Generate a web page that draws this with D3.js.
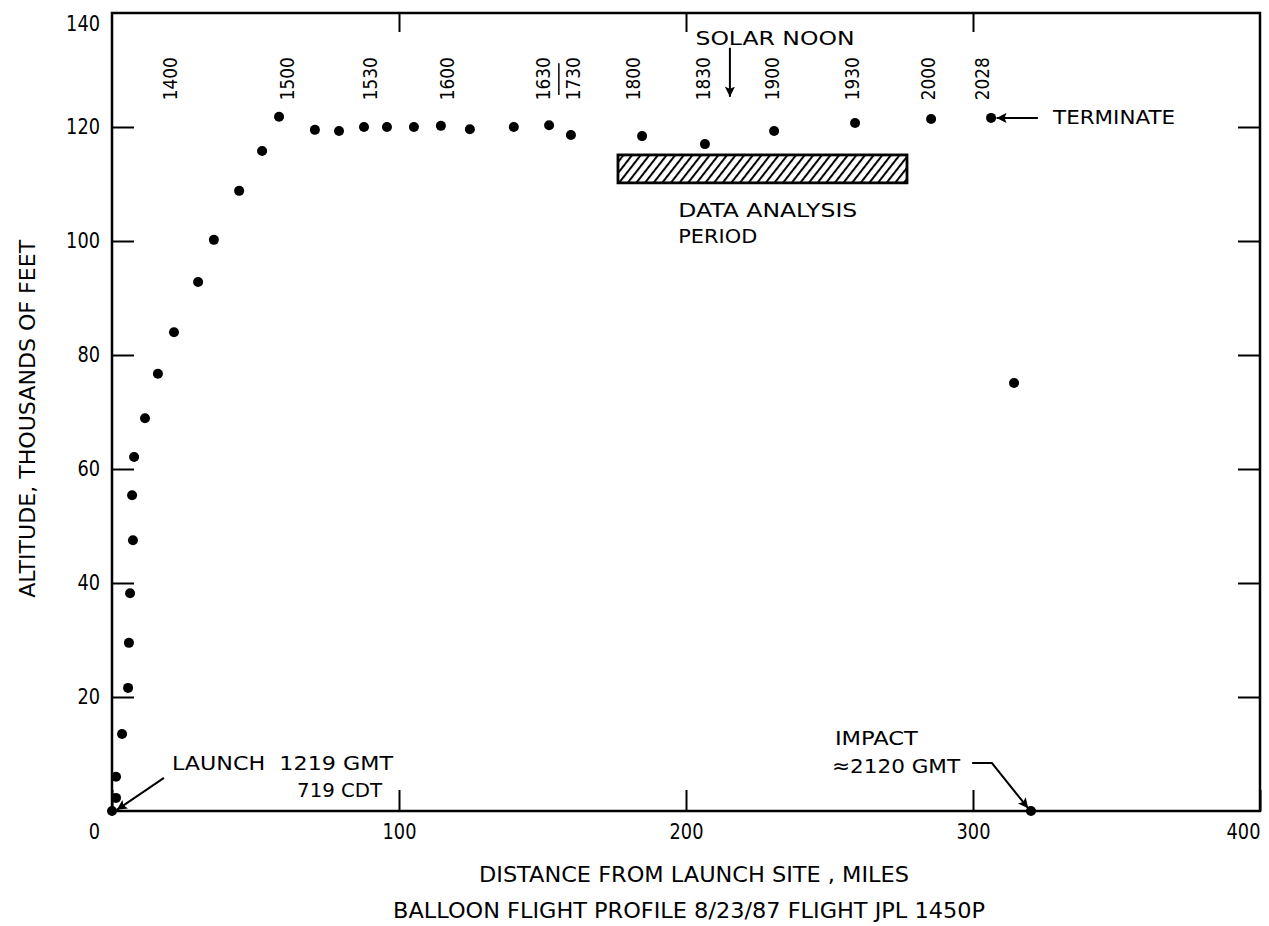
<!DOCTYPE html>
<html>
<head>
<meta charset="utf-8">
<script src="https://cdn.jsdelivr.net/npm/d3@7.9.0/dist/d3.min.js"></script>
<style>
  body { margin: 0; background: #fff; }
  svg { display: block; font-family: 'DejaVu Sans', sans-serif; }
  text { fill: #000; }
</style>
</head>
<body>
<div id="chart"></div>
<script>
// flight points: distance (miles) and altitude (thousands of feet)
const distance = [0, 1.4, 1.4, 3.5, 5.6, 5.9, 6.3, 7.3, 7.0, 7.7, 11.5, 16.0, 21.6, 30.0, 35.5,
  44.3, 52.3, 58.2, 70.7, 79.1, 87.8, 95.8, 105.2, 114.6, 124.7, 140.0, 152.3, 159.9,
  184.7, 206.6, 230.7, 258.9, 285.4, 306.3, 314.3, 320.2];
const altitude = [0, 2.3, 6.0, 13.5, 21.6, 29.5, 38.2, 47.5, 55.4, 62.1, 68.9, 76.7, 84.0, 92.8, 100.2,
  108.8, 115.8, 121.8, 119.5, 119.3, 120.0, 120.0, 120.0, 120.2, 119.6, 120.0, 120.3, 118.6,
  118.4, 117.0, 119.3, 120.7, 121.4, 121.6, 75.1, 0];

// GMT time marks along the float
const timeLabels = ['1400', '1500', '1530', '1600', '1630', '1730', '1800', '1830', '1900', '1930', '2000', '2028'];
const timeDistance = [20.2, 61.0, 89.9, 116.7, 150.2, 160.6, 181.5, 205.9, 230.0, 257.8, 284.3, 303.1];

const xTicks = [0, 100, 200, 300, 400];
const yTicks = [20, 40, 60, 80, 100, 120, 140];

// data analysis period box
const periodDistance = [176.3, 277.0];
const periodAltitude = [110.2, 115.1];

const width = 1269;
const height = 926;
const margin = { top: 13, right: 9, bottom: 115, left: 112 };

const svg = d3.select('#chart').append('svg')
  .attr('width', width)
  .attr('height', height);

const x = d3.scaleLinear().domain([0, 400]).range([margin.left, width - margin.right]);
const y = d3.scaleLinear().domain([0, 140]).range([height - margin.bottom, margin.top]);

const defs = svg.append('defs');
defs.append('pattern')
  .attr('id', 'hatch')
  .attr('patternUnits', 'userSpaceOnUse')
  .attr('width', 6.8)
  .attr('height', 10)
  .attr('patternTransform', 'rotate(38)')
  .append('line')
  .attr('x1', 2).attr('y1', 0).attr('x2', 2).attr('y2', 10)
  .attr('stroke', '#000')
  .attr('stroke-width', 2);

defs.append('marker')
  .attr('id', 'head')
  .attr('viewBox', '0 0 10 10')
  .attr('refX', 10).attr('refY', 5)
  .attr('markerWidth', 18).attr('markerHeight', 10)
  .attr('markerUnits', 'userSpaceOnUse')
  .attr('orient', 'auto')
  .append('path')
  .attr('d', 'M0,0L10,5L0,10L2,5Z')
  .attr('fill', '#000');

// axes (ticks point inward)
const left = svg.append('g')
  .attr('transform', `translate(${x(0)},0)`)
  .call(d3.axisLeft(y).tickValues(yTicks).tickSize(-22).tickPadding(12));
left.selectAll('.tick line').filter(d => d === 140).remove();
left.selectAll('.tick text').filter(d => d === 140).attr('dy', '0.85em');

svg.append('g')
  .attr('transform', `translate(${x(400)},0)`)
  .call(d3.axisRight(y).tickValues(yTicks.slice(0, 6)).tickSize(-22).tickFormat(''));

const bottom = svg.append('g')
  .attr('transform', `translate(0,${y(0)})`)
  .call(d3.axisBottom(x).tickValues(xTicks).tickSize(-21).tickPadding(12));
bottom.selectAll('.tick text')
  .attr('dx', d => d === 0 ? -18 : d === 400 ? -17 : 0);

svg.append('g')
  .attr('transform', `translate(0,${y(140)})`)
  .call(d3.axisTop(x).tickValues([100, 200, 300]).tickSize(-19).tickFormat(''));

svg.selectAll('.domain').remove();
svg.selectAll('.tick line').attr('stroke', '#000').attr('stroke-width', 2);
svg.selectAll('g').attr('font-family', null);
svg.selectAll('.tick text')
  .attr('textLength', d => String(d).length * 11.3)
  .attr('lengthAdjust', 'spacingAndGlyphs')
  .style('font-size', '21px');
bottom.selectAll('.tick text').style('font-size', '22px');

// frame
svg.append('rect')
  .attr('x', x(0)).attr('y', y(140))
  .attr('width', x(400) - x(0)).attr('height', y(0) - y(140))
  .attr('fill', 'none')
  .attr('stroke', '#000')
  .attr('stroke-width', 2.5);

// axis titles
svg.append('text')
  .attr('transform', `translate(${x(-29.5)},${y(68.8)}) rotate(-90)`)
  .attr('text-anchor', 'middle')
  .attr('dy', '0.36em')
  .attr('textLength', 358)
  .attr('lengthAdjust', 'spacingAndGlyphs')
  .style('font-size', '21px')
  .text('ALTITUDE, THOUSANDS OF FEET');

svg.append('text')
  .attr('x', 694).attr('y', 882)
  .attr('text-anchor', 'middle')
  .attr('textLength', 430)
  .attr('lengthAdjust', 'spacingAndGlyphs')
  .style('font-size', '21px')
  .text('DISTANCE FROM LAUNCH SITE , MILES');

svg.append('text')
  .attr('x', 689).attr('y', 918)
  .attr('text-anchor', 'middle')
  .attr('textLength', 592)
  .attr('lengthAdjust', 'spacingAndGlyphs')
  .style('font-size', '21px')
  .text('BALLOON FLIGHT PROFILE 8/23/87 FLIGHT JPL 1450P');

// hatched data analysis period
svg.append('rect')
  .attr('x', x(periodDistance[0]))
  .attr('y', y(periodAltitude[1]))
  .attr('width', x(periodDistance[1]) - x(periodDistance[0]))
  .attr('height', y(periodAltitude[0]) - y(periodAltitude[1]))
  .attr('fill', 'url(#hatch)')
  .attr('stroke', '#000')
  .attr('stroke-width', 2.8);

// flight points
svg.append('g')
  .selectAll('circle')
  .data(d3.zip(distance, altitude))
  .join('circle')
  .attr('cx', d => x(d[0]))
  .attr('cy', d => y(d[1]))
  .attr('r', 5)
  .attr('fill', '#000');

// time labels
svg.append('g')
  .selectAll('text')
  .data(d3.zip(timeLabels, timeDistance))
  .join('text')
  .attr('transform', d => `translate(${x(d[1])},${y(124.7)}) rotate(-90)`)
  .attr('dy', '0.36em')
  .attr('textLength', 43)
  .attr('lengthAdjust', 'spacingAndGlyphs')
  .style('font-size', '19px')
  .text(d => d[0]);

// divider between 1630 and 1730
svg.append('line')
  .attr('x1', x(155.7)).attr('x2', x(155.7))
  .attr('y1', y(131.2)).attr('y2', y(125.6))
  .attr('stroke', '#000').attr('stroke-width', 1.5);

// annotations
function note(str, d, a, len) {
  return svg.append('text')
    .attr('x', x(d)).attr('y', y(a))
    .attr('textLength', len)
    .attr('lengthAdjust', 'spacingAndGlyphs')
    .style('font-size', '20px')
    .text(str);
}

function arrow(points) {
  svg.append('path')
    .attr('d', d3.line().x(p => x(p[0])).y(p => y(p[1]))(points))
    .attr('fill', 'none')
    .attr('stroke', '#000')
    .attr('stroke-width', 2)
    .attr('marker-end', 'url(#head)');
}

note('SOLAR NOON', 203.3, 134.4, 159);
arrow([[215.3, 133.9], [215.3, 125.3]]);

note('DATA ANALYSIS', 197.3, 104.2, 179);
note('PERIOD', 197.3, 99.6, 79);

note('TERMINATE', 327.9, 120.5, 122);
arrow([[322.6, 121.6], [308.2, 121.6]]);

note('LAUNCH\u00a0\u00a01219 GMT', 20.9, 7.2, 221);
note('719 CDT', 64.5, 2.5, 85);
arrow([[18.1, 5.8], [1.7, 0.2]]);

note('IMPACT', 251.9, 11.6, 83);
note('\u22482120 GMT', 250.9, 6.7, 128);
arrow([[299.7, 8.4], [306.6, 8.4], [319.2, 0.5]]);
</script>
</body>
</html>
